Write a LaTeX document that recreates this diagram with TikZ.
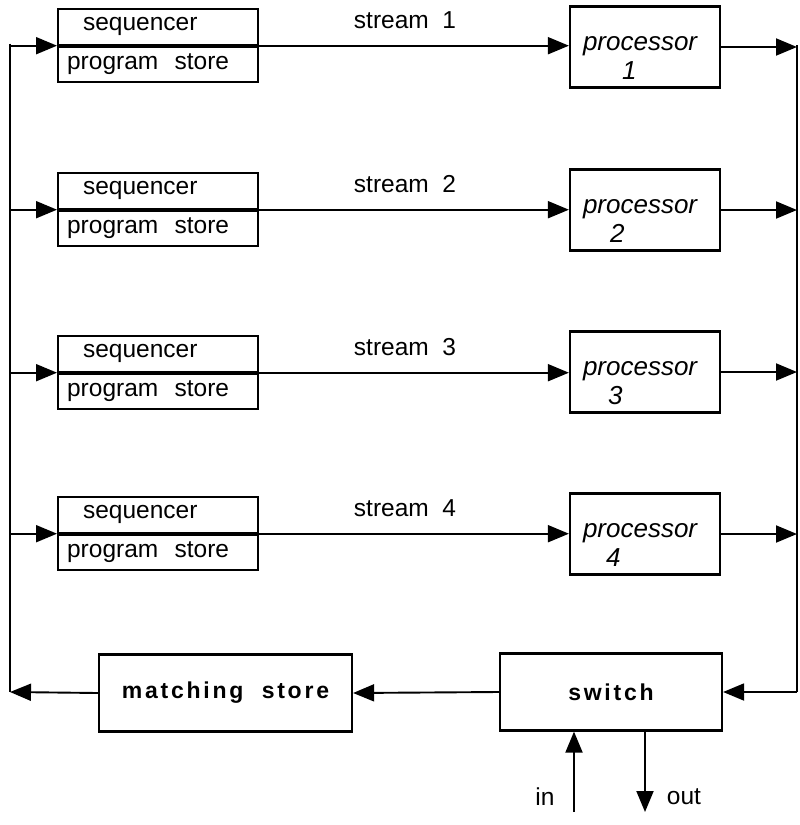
\documentclass[tikz,border=0pt]{standalone}
\usepackage{fontspec}
\setmainfont{Liberation Sans}
\usetikzlibrary{arrows.meta}
\begin{document}
\begin{tikzpicture}[x=1pt,y=-1pt,line width=1.9pt,
  tip/.style={-{Triangle[length=21pt,width=17pt]}},
  txt/.style={font=\fontsize{24.5}{28}\selectfont},
  half/.style={draw,line width=2.2pt,txt,minimum height=35.5pt,text width=182pt,inner xsep=9pt,inner ysep=0pt,align=left,anchor=north west},
  proc/.style={draw,line width=2.2pt,minimum width=150pt,minimum height=81pt,text width=130pt,inner xsep=10pt,align=left,
    font=\fontsize{26}{29}\selectfont\itshape},
  bigbox/.style={draw,line width=2.2pt,minimum height=77pt,inner sep=0pt,
    font=\fontsize{23}{26}\selectfont\bfseries\addfontfeature{LetterSpace=12}},
  lbl/.style={txt,inner sep=0pt}]
\useasboundingbox (0,0) rectangle (800,825);

% sequencer / program store pairs
\foreach \i/\y in {1/8,2/172,3/335,4/496}{
  \node[half] (s\i) at (57,\y) {\hspace*{16pt}sequencer};
  \node[half] (p\i) at (s\i.south west) {program~~store};
}

% processors (the strut lowers the two text lines inside the box)
\newcommand\lowstrut{\rule{0pt}{36pt}}
\node[proc] (c1) at (645,47) {\lowstrut\hspace*{3pt}processor\\\hspace*{42pt}1};
\node[proc] (c2) at (645,210) {\lowstrut\hspace*{3pt}processor\\\hspace*{30pt}2};
\node[proc] (c3) at (645,372) {\lowstrut\hspace*{3pt}processor\\\hspace*{28pt}3};
\node[proc] (c4) at (645,534) {\lowstrut\hspace*{3pt}processor\\\hspace*{26pt}4};

% stream labels
\foreach \i/\y in {1/20,2/184,3/347,4/508}
  \node[lbl] (t\i) at (405,\y) {stream~~\i};

% switch and matching store
\node[bigbox,minimum width=222pt] (sw) at (611,692) {switch};
\node[bigbox,minimum width=253pt] (ms) at (225.5,693) {matching~~store};

% rails
\coordinate (lt) at (10,43.5);
\coordinate (lb) at (10,692);
\coordinate (rt) at (797,45);
\coordinate (rb) at (797,692);
\draw (lt) -- (lb);
\draw (rt) -- (rb);

% streams, feeds and outputs
\foreach \i in {1,2,3,4}{
  \draw[tip] (s\i.south west -| lt) -- (s\i.south west);
  \draw[tip] (s\i.south east) -- (s\i.south east -| c\i.west);
  \draw[tip] (c\i.east) -- (c\i.east -| rt);
}

% bottom loop
\draw[tip] (rb) -- (sw.east);
\draw[tip] (sw.west) -- (ms.east);
\draw[tip] (ms.west) -- (lb);

% external in / out
\coordinate (inb) at (574,812);
\coordinate (outb) at (645,812);
\draw[tip] (inb) -- (inb |- sw.south);
\draw[tip] (outb |- sw.south) -- (outb);
\node[lbl] (inl) at (545,797) {in};
\node[lbl] (outl) at (684,797) {out};
\end{tikzpicture}
\end{document}
